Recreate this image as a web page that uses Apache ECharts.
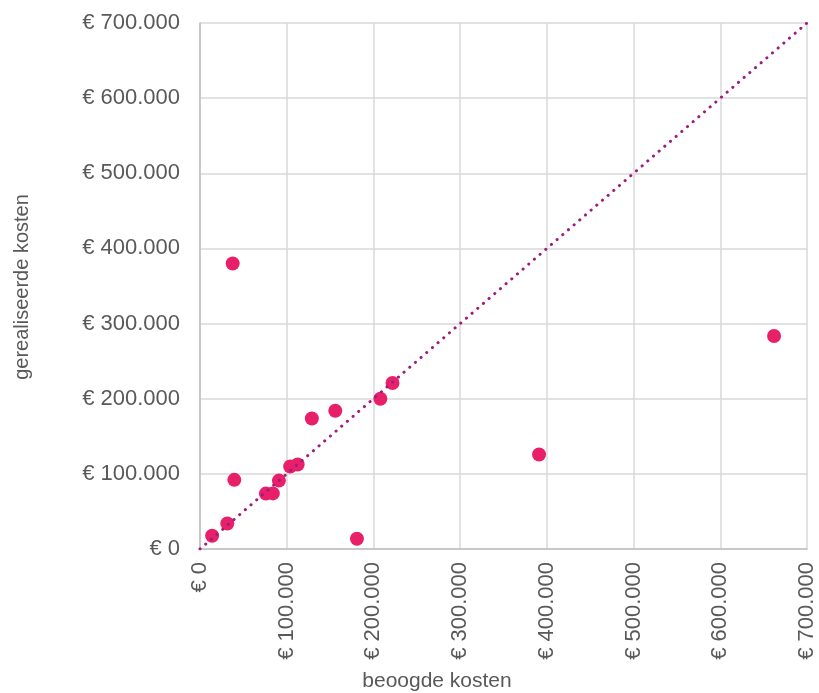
<!DOCTYPE html>
<html>
<head>
    <meta charset="UTF-8">
    <title>Kosten</title>
    <script src="https://cdn.jsdelivr.net/npm/echarts@6/dist/echarts.min.js"></script>
</head>
<body style="margin:0">
    <div id="chart" style="width:819px; height:693px;"></div>
    <script>
        // beoogde kosten (x) en gerealiseerde kosten (y)
        var beoogd = [14000, 31500, 39600, 37700, 76000, 84000, 91000, 104000, 112600, 129000, 156000, 181000, 208000, 222000, 391000, 662000];
        var gerealiseerd = [17700, 34000, 92000, 380000, 73700, 74000, 91000, 109700, 112400, 173700, 184000, 13700, 200000, 221000, 125700, 283500];
        var diagonaal = [[0, 0], [700000, 700000]];

        var points = [];
        for (var i = 0; i < beoogd.length; i++) {
            points.push([beoogd[i], gerealiseerd[i]]);
        }

        function euro(v) {
            return '€ ' + String(v).replace(/\B(?=(\d{3})+(?!\d))/g, '.');
        }

        var chart = echarts.init(document.getElementById('chart'), null, {renderer: 'canvas'});
        var font = 'Liberation Sans, Arial, sans-serif';
        chart.setOption({
            animation: false,
            grid: {left: 200, right: 12, top: 23, bottom: 144},
            xAxis: {
                type: 'value', min: 0, max: 700000, interval: 100000,
                axisLine: {lineStyle: {color: '#bfbfbf', width: 1.5}},
                axisTick: {show: false},
                splitLine: {lineStyle: {color: '#d9d9d9', width: 1.5}},
                axisLabel: {rotate: 90, margin: 13, color: '#595959', fontSize: 22, fontFamily: font, formatter: euro}
            },
            yAxis: {
                type: 'value', min: 0, max: 700000, interval: 100000,
                axisLine: {show: true, lineStyle: {color: '#bfbfbf', width: 1.5}},
                axisTick: {show: false},
                splitLine: {lineStyle: {color: '#d9d9d9', width: 1.5}},
                axisLabel: {margin: 20, color: '#595959', fontSize: 22, fontFamily: font, formatter: euro}
            },
            graphic: [
                {type: 'text', x: 437, y: 681,
                    style: {text: 'beoogde kosten', fill: '#595959', font: '21px ' + font, textAlign: 'center', textVerticalAlign: 'middle'}},
                {type: 'text', x: 22, y: 287, rotation: Math.PI / 2,
                    style: {text: 'gerealiseerde kosten', fill: '#595959', font: '20px ' + font, textAlign: 'center', textVerticalAlign: 'middle'}}
            ],
            series: [
                {
                    type: 'line', data: diagonaal, symbol: 'none', silent: true,
                    lineStyle: {color: '#9c1c80', width: 3, type: [0.1, 7.4], cap: 'round'}
                },
                {
                    type: 'scatter', data: points, symbolSize: 14,
                    itemStyle: {color: '#e8206a', opacity: 1}
                }
            ]
        });
    </script>
</body>
</html>
